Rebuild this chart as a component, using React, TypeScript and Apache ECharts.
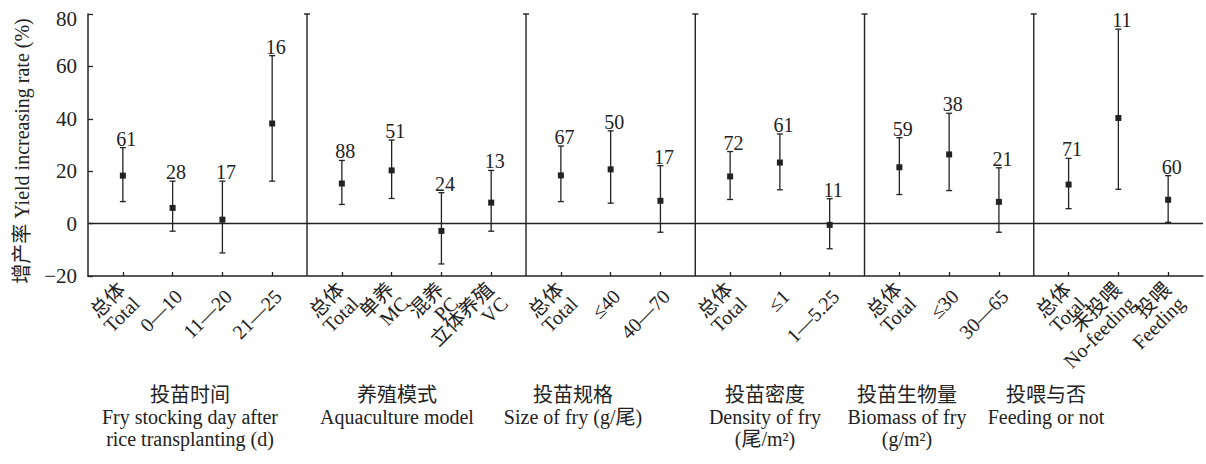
import React, { useEffect, useRef } from "react";
import * as echarts from "echarts";

const groupSizes = [4, 4, 3, 3, 3, 3];
const categories = [
  "总体\nTotal", "0—10", "11—20", "21—25",
  "总体\nTotal", "单养\nMC", "混养\nPC", "立体养殖\nVC",
  "总体\nTotal", "≤40", "40—70",
  "总体\nTotal", "≤1", "1—5.25",
  "总体\nTotal", "≤30", "30—65",
  "总体\nTotal", "未投喂\nNo-feeding", "投喂\nFeeding",
];
const means = [18.3, 6.0, 1.5, 38.2, 15.3, 20.3, -2.8, 8.0, 18.4, 20.7, 8.7, 18.0, 23.3, -0.5, 21.5, 26.4, 8.3, 14.9, 40.3, 9.1];
const uppers = [29.0, 16.2, 16.2, 64.1, 24.1, 31.9, 11.8, 20.3, 29.6, 35.4, 22.1, 27.5, 34.2, 9.5, 32.8, 42.1, 21.3, 24.9, 74.2, 18.3];
const lowers = [8.4, -2.9, -11.2, 16.2, 7.3, 9.6, -15.4, -2.9, 8.4, 7.8, -3.3, 9.2, 12.9, -9.6, 11.1, 12.6, -3.3, 5.7, 13.1, 0.5];
const counts = [61, 28, 17, 16, 88, 51, 24, 13, 67, 50, 17, 72, 61, 11, 59, 38, 21, 71, 11, 60];
const groupNames = [
  "投苗时间\nFry stocking day after\nrice transplanting (d)",
  "养殖模式\nAquaculture model",
  "投苗规格\nSize of fry (g/尾)",
  "投苗密度\nDensity of fry\n(尾/m²)",
  "投苗生物量\nBiomass of fry\n(g/m²)",
  "投喂与否\nFeeding or not",
];
const groupLabelCenters = [190, 397, 573, 765, 907, 1046];
const yMin = -20;
const yMax = 80;
const yInterval = 20;
const yAxisName = "增产率 Yield increasing rate (%)";

const FONT = '"Liberation Serif", "Times New Roman", "Noto Sans CJK SC", serif';
const INK = "#222";

// x positions of categories (grouped, with wider gaps between groups)
const xs: number[] = [];
const separators: number[] = [];
let cursor = 0;
groupSizes.forEach((n, g) => {
  if (g > 0) separators.push(cursor);
  for (let j = 0; j < n; j++) xs.push(cursor + 0.7 + j);
  cursor = cursor + (n - 1) + 1.4;
});
const xMax = cursor;

export default function App() {
  const ref = useRef<HTMLDivElement>(null);
  useEffect(() => {
    document.body.style.margin = "0";
    const chart = echarts.init(ref.current!, null, { renderer: "svg" });
    const pointData = xs.map((x, i) => [x, lowers[i], uppers[i], means[i], counts[i], i]);
    const option: any = {
      animation: false,
      grid: { left: 88, right: 3, top: 14, bottom: 188 },
      xAxis: {
        type: "value",
        min: 0,
        max: xMax,
        axisLine: { show: true, onZero: false, lineStyle: { color: INK, width: 1.5 } },
        axisTick: { show: true, inside: true, length: 4, customValues: xs, lineStyle: { color: INK, width: 1.3 } },
        axisLabel: { show: false },
        splitLine: { show: false },
      },
      yAxis: {
        type: "value",
        min: yMin,
        max: yMax,
        interval: yInterval,
        axisLine: { show: true, lineStyle: { color: INK, width: 1.5 } },
        axisTick: { show: true, inside: true, length: 5, lineStyle: { color: INK, width: 1.3 } },
        axisLabel: {
          color: INK,
          fontFamily: FONT,
          fontSize: 21,
          margin: 11,
          formatter: (v: number) => (v === yMax ? "{t|" + v + "}" : v < 0 ? "−" + Math.abs(v) : String(v)),
          rich: { t: { fontFamily: FONT, fontSize: 21, color: INK, padding: [10, 0, 0, 0] } },
        },
        splitLine: { show: false },
      },
      graphic: [
        {
          type: "text",
          x: 22,
          y: 151,
          rotation: Math.PI / 2,
          style: { text: yAxisName, fill: INK, font: "20px " + FONT, align: "center", verticalAlign: "middle" },
        },
        ...groupNames.map((t, i) => ({
          type: "text",
          x: groupLabelCenters[i],
          y: 384,
          style: { text: t, fill: INK, font: "20px " + FONT, align: "center", verticalAlign: "top", lineHeight: 22 },
        })),
      ],
      series: [
        {
          type: "custom",
          name: "separators",
          data: separators.map((x) => [x]),
          encode: { x: 0 },
          renderItem: (params: any, api: any) => {
            const x = api.value(0);
            const top = api.coord([x, yMax]);
            const bot = api.coord([x, yMin]);
            const ls = { stroke: INK, lineWidth: 1.4 };
            return {
              type: "group",
              children: [
                { type: "line", shape: { x1: top[0], y1: top[1], x2: bot[0], y2: bot[1] }, style: ls },
                { type: "line", shape: { x1: top[0] - 3, y1: top[1], x2: top[0] + 3, y2: top[1] }, style: ls },
              ],
            };
          },
          markLine: {
            silent: true,
            symbol: "none",
            label: { show: false },
            lineStyle: { color: INK, width: 1.3, type: "solid" },
            data: [{ yAxis: 0 }],
          },
        },
        {
          type: "custom",
          name: "xlabels",
          data: xs.map((x, i) => [x, i]),
          encode: { x: 0 },
          renderItem: (params: any, api: any) => {
            const x = api.value(0);
            const i = api.value(1);
            const p = api.coord([x, yMin]);
            return {
              type: "text",
              x: p[0] + 6,
              y: p[1] + 17,
              rotation: Math.PI / 4,
              style: {
                text: categories[i],
                fill: INK,
                font: "20px " + FONT,
                align: "right",
                verticalAlign: "middle",
                lineHeight: 20,
              },
            };
          },
        },
        {
          type: "custom",
          name: "yield",
          data: pointData,
          encode: { x: 0, y: [1, 2, 3] },
          renderItem: (params: any, api: any) => {
            const x = api.value(0);
            const lo = api.coord([x, api.value(1)]);
            const hi = api.coord([x, api.value(2)]);
            const m = api.coord([x, api.value(3)]);
            const n = api.value(4);
            const ls = { stroke: INK, lineWidth: 1.3 };
            return {
              type: "group",
              children: [
                { type: "line", shape: { x1: hi[0], y1: hi[1], x2: lo[0], y2: lo[1] }, style: ls },
                { type: "line", shape: { x1: hi[0] - 3, y1: hi[1], x2: hi[0] + 3, y2: hi[1] }, style: ls },
                { type: "line", shape: { x1: lo[0] - 3, y1: lo[1], x2: lo[0] + 3, y2: lo[1] }, style: ls },
                { type: "rect", shape: { x: m[0] - 3, y: m[1] - 3, width: 6, height: 6 }, style: { fill: INK } },
                {
                  type: "text",
                  x: hi[0] + 3.5,
                  y: hi[1] - 9,
                  style: { text: String(n), fill: INK, font: "20px " + FONT, align: "center", verticalAlign: "middle" },
                },
              ],
            };
          },
        },
      ],
    };
    chart.setOption(option);
    return () => chart.dispose();
  }, []);
  return <div ref={ref} style={{ width: 1206, height: 464 }} />;
}
